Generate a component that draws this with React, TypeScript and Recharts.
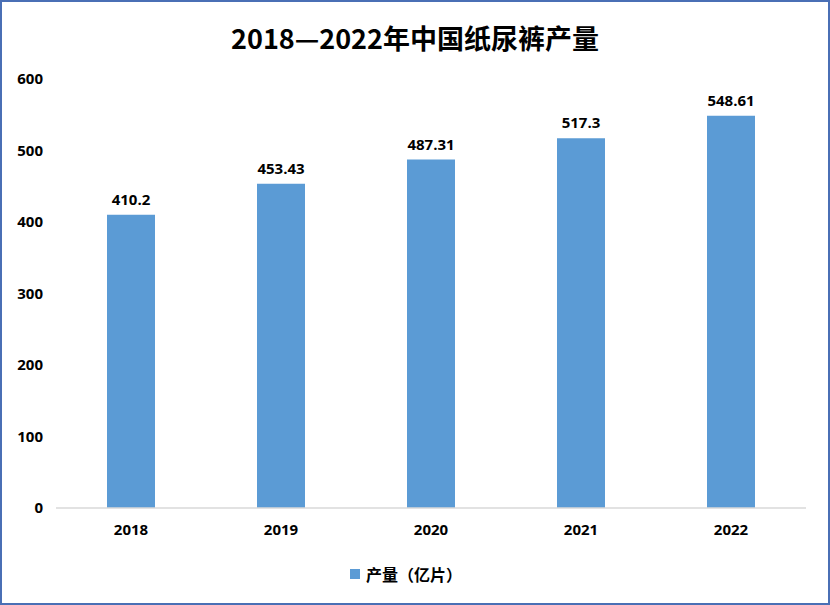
import { BarChart, Bar, XAxis, YAxis, Legend, LabelList } from 'recharts';

const years = ['2018', '2019', '2020', '2021', '2022'];
const output = [410.2, 453.43, 487.31, 517.3, 548.61];
const yTicks = [0, 100, 200, 300, 400, 500, 600];

const data = years.map((year, i) => ({ year, output: output[i] }));

const tickFont = { fontSize: 15, fontWeight: 700, fill: '#000', fontFamily: '"Open Sans", sans-serif' };

const renderLegend = () => (
  <div style={{ display: 'flex', justifyContent: 'center', alignItems: 'center', marginTop: 4 }}>
    <span style={{ width: 10, height: 10, background: '#5B9BD5', display: 'inline-block', marginRight: 6 }} />
    <span style={{ fontSize: 16, fontWeight: 700, color: '#000', fontFamily: '"Noto Sans CJK SC", sans-serif' }}>
      产量（亿片）
    </span>
  </div>
);

export default function App() {
  return (
    <div
      style={{
        position: 'absolute',
        left: 0,
        top: 0,
        width: 830,
        height: 605,
        boxSizing: 'border-box',
        border: '2px solid #4A6FB5',
        background: '#fff',
      }}
    >
      <div
        style={{
          position: 'absolute',
          top: 17,
          left: 0,
          width: 826,
          textAlign: 'center',
          fontSize: 27,
          fontWeight: 700,
          color: '#000',
          fontFamily: '"Noto Sans CJK SC", sans-serif',
          lineHeight: '38px',
        }}
      >
        2018—2022年中国纸尿裤产量
      </div>
      <BarChart
        width={826}
        height={601}
        data={data}
        margin={{ top: 77, right: 22, left: 4, bottom: 15 }}
      >
        <XAxis
          dataKey="year"
          tick={tickFont}
          tickLine={false}
          axisLine={{ stroke: '#D9D9D9', strokeWidth: 1.5 }}
          tickMargin={10}
          height={50}
        />
        <YAxis
          domain={[0, 600]}
          ticks={yTicks}
          tick={tickFont}
          tickLine={false}
          axisLine={false}
          tickMargin={7}
          width={50}
        />
        <Legend verticalAlign="bottom" height={30} content={renderLegend} />
        <Bar dataKey="output" fill="#5B9BD5" barSize={48} isAnimationActive={false}>
          <LabelList dataKey="output" position="top" offset={10} style={tickFont} />
        </Bar>
      </BarChart>
    </div>
  );
}
